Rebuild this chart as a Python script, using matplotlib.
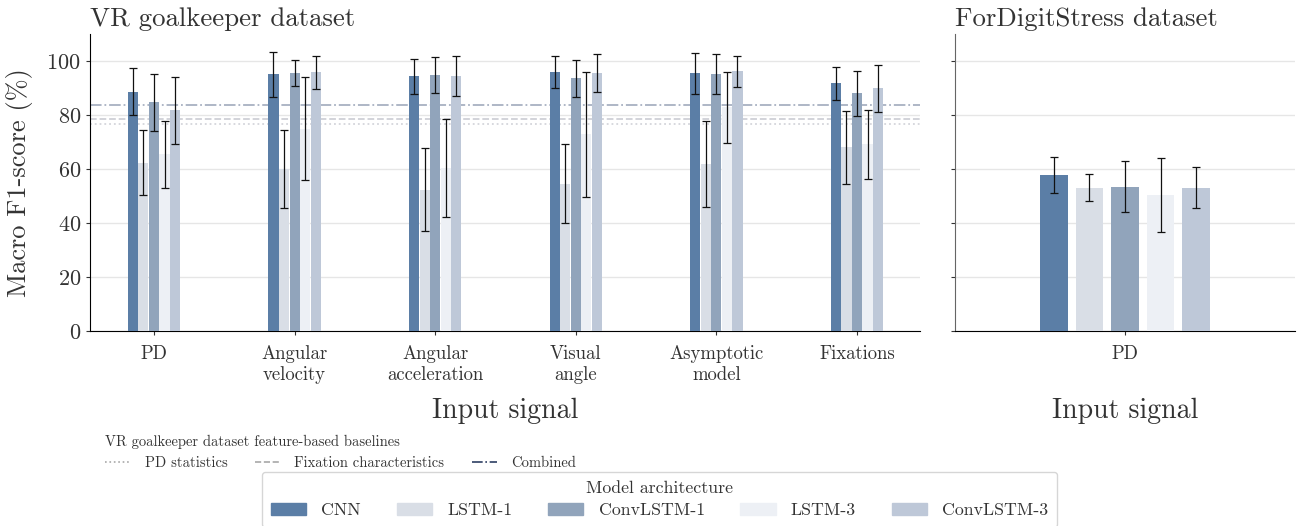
import numpy as np
import matplotlib; matplotlib.use('Agg')
from matplotlib import pyplot as plt
from matplotlib.lines import Line2D
from matplotlib.patches import Patch

plt.rcParams['font.family'] = ['cmr10', 'DejaVu Serif']
plt.rcParams['mathtext.fontset'] = 'cm'
plt.rcParams['axes.formatter.use_mathtext'] = True
plt.rcParams['text.color'] = '#333333'
plt.rcParams['axes.labelcolor'] = '#333333'
plt.rcParams['xtick.color'] = '#333333'
plt.rcParams['ytick.color'] = '#333333'

models = ['CNN', 'LSTM-1', 'ConvLSTM-1', 'LSTM-3', 'ConvLSTM-3']
colors = ['#5b7ea6', '#d9dee6', '#91a4bb', '#edf0f5', '#bec8d8']

signals_vr = ['PD', 'Angular\nvelocity', 'Angular\nacceleration', 'Visual\nangle',
              'Asymptotic\nmodel', 'Fixations']
# mean macro F1 per model (rows) and signal (columns)
vr_mean = np.array([
    [88.7, 95.1, 94.3, 95.8, 95.4, 91.7],
    [62.4, 60.0, 52.4, 54.6, 62.0, 68.0],
    [84.7, 95.4, 94.7, 93.6, 95.1, 88.0],
    [65.4, 75.0, 60.5, 72.8, 82.8, 69.1],
    [81.7, 95.8, 94.3, 95.6, 96.2, 89.9],
])
vr_std = np.array([
    [8.7, 8.3, 6.4, 5.9, 7.7, 6.1],
    [11.9, 14.3, 15.3, 14.5, 15.9, 13.5],
    [10.6, 4.8, 6.7, 6.8, 7.4, 8.4],
    [12.4, 19.1, 18.2, 23.2, 13.3, 12.9],
    [12.4, 6.1, 7.4, 6.9, 5.8, 8.8],
])

signals_fds = ['PD']
fds_mean = [57.9, 53.1, 53.5, 50.5, 53.1]
fds_std = [6.7, 5.1, 9.4, 13.7, 7.5]

baseline_names = ['PD statistics', 'Fixation characteristics', 'Combined']
baseline_vals = [76.5, 78.5, 83.7]
baseline_styles = [':', '--', '-.']
baseline_colors = ['#d4d5db', '#cfd0d7', '#a8b1c2']
legend_colors = ['#a8a8a8', '#a8a8a8', '#2e3f63']

fig = plt.figure(figsize=(13, 5.26), dpi=100)
ax1 = fig.add_axes([90/1300, 1-331/526, 830/1300, 297/526])
ax2 = fig.add_axes([955/1300, 1-331/526, 340/1300, 297/526])

err_kw = dict(ecolor='#111111', elinewidth=0.9, capsize=3.2, capthick=0.9)

x1 = np.arange(len(signals_vr))
for i, m in enumerate(models):
    ax1.bar(x1 + (i-2)*0.075, vr_mean[i], width=0.072, color=colors[i],
            yerr=vr_std[i], error_kw=err_kw, zorder=3, label=m)

for v, ls, c in zip(baseline_vals, baseline_styles, baseline_colors):
    ax1.axhline(v, ls=ls, color=c, lw=1.3, zorder=2)

for i, m in enumerate(models):
    ax2.bar(0 + (i-2)*0.1045, fds_mean[i], width=0.082, color=colors[i],
            yerr=fds_std[i], error_kw=err_kw, zorder=3)

for ax in (ax1, ax2):
    ax.set_ylim(0, 110)
    ax.set_yticks(np.arange(0, 101, 20))
    ax.grid(axis='y', color='#e6e6e6', lw=1.0, zorder=0)
    ax.set_axisbelow(True)
    ax.spines['top'].set_visible(False)
    ax.spines['right'].set_visible(False)
    ax.tick_params(axis='y', labelsize=16, length=3)
    ax.tick_params(axis='x', labelsize=13.5, length=3, pad=7)
    ax.set_xlabel('Input signal', fontsize=20)
    ax.xaxis.set_label_coords(0.5, -0.225)

ax1.set_xlim(-0.455, 5.448)
ax1.set_xticks(x1)
ax1.set_xticklabels(signals_vr, linespacing=1.2)
ax1.set_ylabel('Macro F1-score (%)', fontsize=19, labelpad=10)
ax1.set_title('VR goalkeeper dataset', loc='left', fontsize=19.3, pad=6)

ax2.set_xlim(-0.5, 0.5)
ax2.set_xticks([0])
ax2.set_xticklabels(signals_fds)
ax2.set_yticklabels([])
ax2.spines['left'].set_color('#666666')
ax2.set_title('ForDigitStress dataset', loc='left', fontsize=19.3, pad=6)

base_handles = [Line2D([0], [0], ls=ls, color=c, lw=1.2)
                for ls, c in zip(baseline_styles, legend_colors)]
leg1 = fig.legend(base_handles, baseline_names, loc='upper left',
                  bbox_to_anchor=(95/1300, 1-425/526), ncol=3, frameon=False,
                  fontsize=10.5, title='VR goalkeeper dataset feature-based baselines',
                  title_fontsize=10.5, alignment='left', handlelength=1.7,
                  handletextpad=1.0, columnspacing=1.9, borderpad=0.2)

model_handles = [Patch(color=c) for c in colors]
leg2 = fig.legend(model_handles, models, loc='upper center',
                  bbox_to_anchor=(659.5/1300, 1-463/526), ncol=5, frameon=True,
                  fontsize=12.8, title='Model architecture', title_fontsize=12.8,
                  handlelength=2.0, handletextpad=0.85, columnspacing=2.0,
                  borderpad=0.5, labelspacing=0.6,
                  edgecolor='#cccccc', fancybox=True)
leg2.get_frame().set_linewidth(1.0)
leg2._legend_box.sep = 5

fig.savefig('out.png', dpi=100)
